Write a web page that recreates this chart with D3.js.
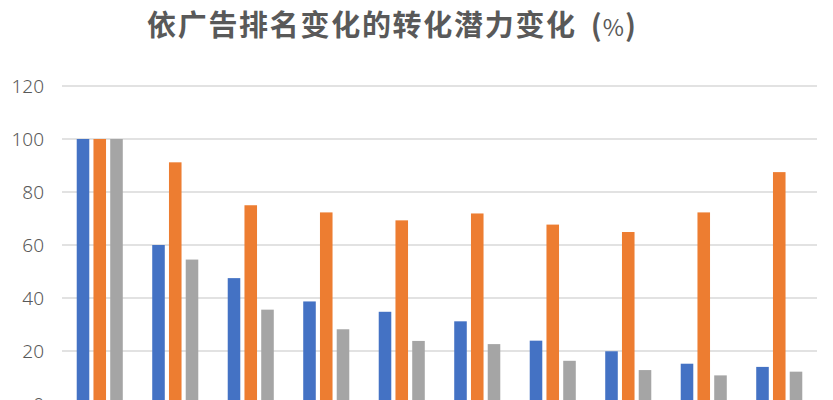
<!DOCTYPE html>
<html>
<head>
<meta charset="utf-8">
<script src="https://cdn.jsdelivr.net/npm/d3@7"></script>
<style>
	html, body { margin: 0; padding: 0; background: #fff; overflow: hidden; }
</style>
</head>
<body>
<div id="chart"></div>
<script>
// values (x-axis labels and legend lie below the visible area)
const categories = ['1', '2', '3', '4', '5', '6', '7', '8', '9', '10'];
const seriesNames = ['系列1', '系列2', '系列3'];
const series1 = [100, 60, 47.5, 38.7, 34.8, 31.2, 23.9, 19.9, 15.2, 14];
const series2 = [100, 91.2, 75, 72.3, 69.3, 71.9, 67.7, 64.9, 72.3, 87.5];
const series3 = [100, 54.5, 35.6, 28.2, 23.8, 22.6, 16.3, 12.8, 10.8, 12.2];
const yTicks = [0, 20, 40, 60, 80, 100, 120];
const colors = ['#4472C4', '#ED7D31', '#A5A5A5'];
const title = '依广告排名变化的转化潜力变化';

const width = 833;
const height = 400;
const margin = { left: 62, right: 16, top: 86 };
const plotBottom = 404; // the axis line sits just below the visible area

const allSeries = [series1, series2, series3];
const rows = categories.map((c, i) => ({
	category: c,
	values: allSeries.map((s, j) => ({ key: seriesNames[j], value: s[i], color: colors[j] }))
}));

const svg = d3
	.select('#chart')
	.append('svg')
	.attr('width', width)
	.attr('height', height)
	.style('display', 'block');

const x0 = d3
	.scaleBand()
	.domain(categories)
	.range([ margin.left, width - margin.right ])
	.paddingInner(0.39)
	.paddingOuter(0.195);

const x1 = d3.scaleBand().domain(seriesNames).range([ 0, x0.bandwidth() ]).paddingInner(0.25);

const y = d3.scaleLinear().domain([ 0, 120 ]).range([ plotBottom, margin.top ]);

// gridlines
svg
	.append('g')
	.selectAll('line')
	.data(yTicks)
	.join('line')
	.attr('x1', margin.left)
	.attr('x2', width - margin.right)
	.attr('y1', (d) => y(d))
	.attr('y2', (d) => y(d))
	.style('stroke', '#d9d9d9')
	.style('stroke-width', 1.3);

// y tick labels
svg
	.append('g')
	.selectAll('text')
	.data(yTicks)
	.join('text')
	.attr('x', 44)
	.attr('y', (d) => y(d))
	.attr('dy', '0.36em')
	.attr('text-anchor', 'end')
	.style('font-family', '"Noto Sans", sans-serif')
	.style('font-weight', 300)
	.style('font-size', '19px')
	.style('fill', '#595959')
	.text((d) => d);

// bars
svg
	.append('g')
	.selectAll('g')
	.data(rows)
	.join('g')
	.attr('transform', (d) => `translate(${x0(d.category)}, 0)`)
	.selectAll('rect')
	.data((d) => d.values)
	.join('rect')
	.attr('x', (d) => x1(d.key))
	.attr('width', x1.bandwidth())
	.attr('y', (d) => y(d.value))
	.attr('height', (d) => y(0) - y(d.value))
	.style('fill', (d) => d.color);

// title
const titleText = svg
	.append('text')
	.attr('x', 147)
	.attr('y', 36)
	.style('font-family', '"Noto Sans CJK SC", sans-serif')
	.style('font-weight', 'bold')
	.style('fill', '#595959');

titleText.append('tspan').style('font-size', '29px').style('letter-spacing', '1.7px').text(title);
// unit: tall parens with a narrow percent sign
titleText.append('tspan').attr('dx', 14).style('font-size', '29px').text('(');
titleText.append('tspan').attr('dx', 1).style('font-size', '23px').style('font-weight', 'normal').text('%');
titleText.append('tspan').attr('dx', 1).style('font-size', '29px').text(')');
</script>
</body>
</html>
